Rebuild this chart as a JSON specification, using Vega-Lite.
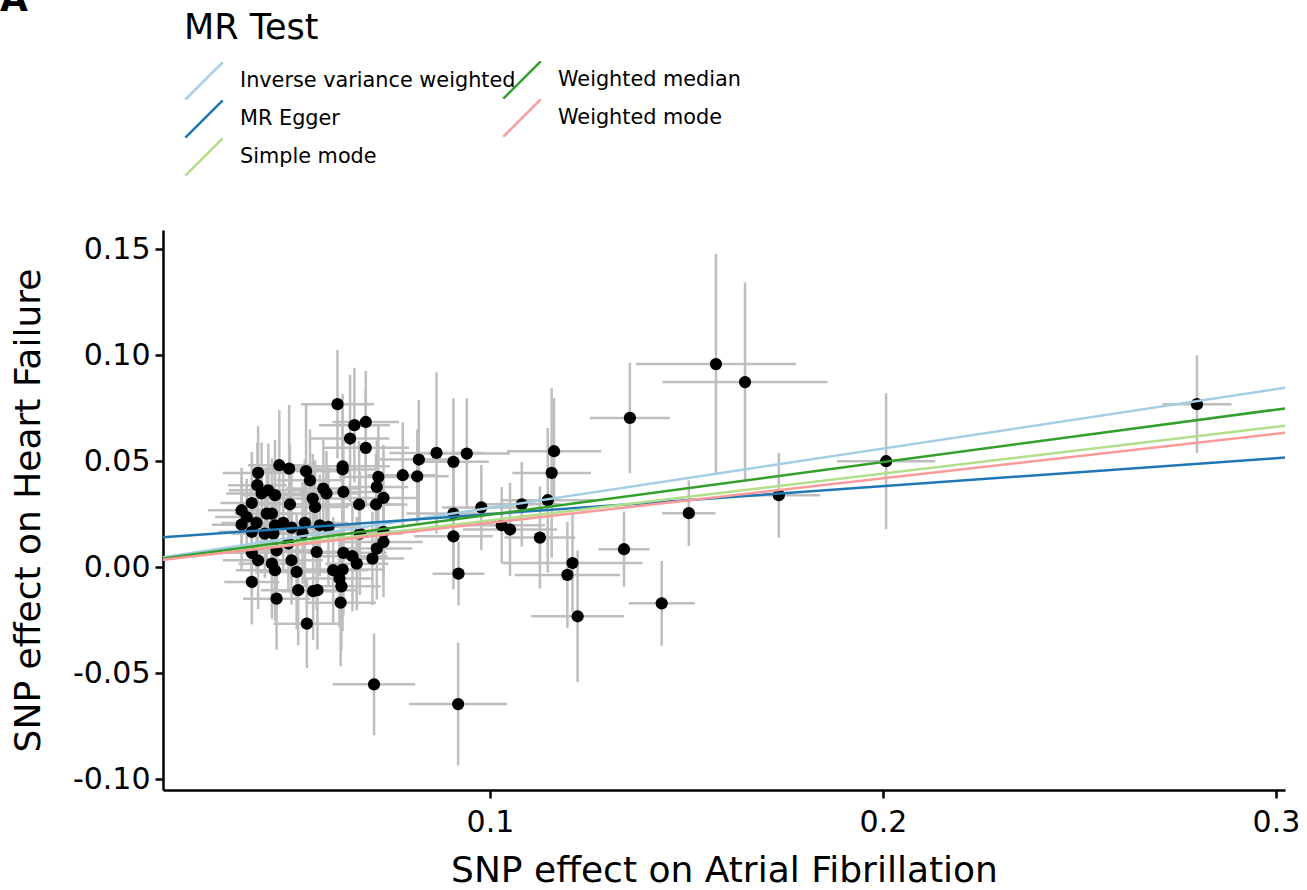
{
  "$schema": "https://vega.github.io/schema/vega-lite/v6.json",
  "autosize": {"type": "none"},
  "padding": {"left": 163, "top": 230, "right": 22, "bottom": 100},
  "width": 1122,
  "height": 560,
  "background": "white",
  "title": {
    "text": "A",
    "orient": "bottom",
    "anchor": "start",
    "frame": "group",
    "font": "DejaVu Sans",
    "fontSize": 36,
    "fontWeight": "bold",
    "color": "black",
    "baseline": "alphabetic",
    "offset": -877,
    "dx": -163
  },
  "datasets": {
    "snps": [
      {"bx": 0.2799, "by": 0.0769, "sx": 0.0088, "sy": 0.0230},
      {"bx": 0.2008, "by": 0.0500, "sx": 0.0125, "sy": 0.0320},
      {"bx": 0.1735, "by": 0.0340, "sx": 0.0105, "sy": 0.0200},
      {"bx": 0.1575, "by": 0.0958, "sx": 0.0204, "sy": 0.0520},
      {"bx": 0.1649, "by": 0.0873, "sx": 0.0210, "sy": 0.0470},
      {"bx": 0.1506, "by": 0.0255, "sx": 0.0068, "sy": 0.0155},
      {"bx": 0.1356, "by": 0.0704, "sx": 0.0102, "sy": 0.0260},
      {"bx": 0.1341, "by": 0.0085, "sx": 0.0065, "sy": 0.0177},
      {"bx": 0.1437, "by": -0.0170, "sx": 0.0084, "sy": 0.0200},
      {"bx": 0.1210, "by": 0.0020, "sx": 0.0178, "sy": 0.0230},
      {"bx": 0.1197, "by": -0.0036, "sx": 0.0134, "sy": 0.0250},
      {"bx": 0.1223, "by": -0.0231, "sx": 0.0118, "sy": 0.0310},
      {"bx": 0.0920, "by": -0.0030, "sx": 0.0066, "sy": 0.0150},
      {"bx": 0.0919, "by": -0.0645, "sx": 0.0125, "sy": 0.0290},
      {"bx": 0.0705, "by": -0.0552, "sx": 0.0105, "sy": 0.0240},
      {"bx": 0.0778, "by": 0.0434, "sx": 0.0090, "sy": 0.0250},
      {"bx": 0.0815, "by": 0.0429, "sx": 0.0080, "sy": 0.0220},
      {"bx": 0.0819, "by": 0.0508, "sx": 0.0100, "sy": 0.0280},
      {"bx": 0.0864, "by": 0.0539, "sx": 0.0120, "sy": 0.0380},
      {"bx": 0.0907, "by": 0.0497, "sx": 0.0090, "sy": 0.0300},
      {"bx": 0.0941, "by": 0.0536, "sx": 0.0110, "sy": 0.0260},
      {"bx": 0.0907, "by": 0.0253, "sx": 0.0120, "sy": 0.0300},
      {"bx": 0.0907, "by": 0.0146, "sx": 0.0100, "sy": 0.0250},
      {"bx": 0.0978, "by": 0.0282, "sx": 0.0100, "sy": 0.0200},
      {"bx": 0.1030, "by": 0.0198, "sx": 0.0110, "sy": 0.0180},
      {"bx": 0.1051, "by": 0.0178, "sx": 0.0120, "sy": 0.0220},
      {"bx": 0.1081, "by": 0.0297, "sx": 0.0100, "sy": 0.0200},
      {"bx": 0.1127, "by": 0.0140, "sx": 0.0090, "sy": 0.0240},
      {"bx": 0.1147, "by": 0.0316, "sx": 0.0120, "sy": 0.0340},
      {"bx": 0.1157, "by": 0.0445, "sx": 0.0100, "sy": 0.0400},
      {"bx": 0.1163, "by": 0.0547, "sx": 0.0120, "sy": 0.0250},
      {"bx": 0.0612, "by": 0.0769, "sx": 0.0093, "sy": 0.0255},
      {"bx": 0.0655, "by": 0.0670, "sx": 0.0090, "sy": 0.0270},
      {"bx": 0.0684, "by": 0.0685, "sx": 0.0085, "sy": 0.0240},
      {"bx": 0.0644, "by": 0.0607, "sx": 0.0100, "sy": 0.0300},
      {"bx": 0.0684, "by": 0.0563, "sx": 0.0110, "sy": 0.0280},
      {"bx": 0.0464, "by": 0.0481, "sx": 0.0080, "sy": 0.0260},
      {"bx": 0.0489, "by": 0.0465, "sx": 0.0095, "sy": 0.0300},
      {"bx": 0.0410, "by": 0.0445, "sx": 0.0090, "sy": 0.0220},
      {"bx": 0.0532, "by": 0.0453, "sx": 0.0110, "sy": 0.0320},
      {"bx": 0.0542, "by": 0.0410, "sx": 0.0085, "sy": 0.0240},
      {"bx": 0.0625, "by": 0.0476, "sx": 0.0120, "sy": 0.0340},
      {"bx": 0.0625, "by": 0.0461, "sx": 0.0090, "sy": 0.0280},
      {"bx": 0.0716, "by": 0.0426, "sx": 0.0100, "sy": 0.0250},
      {"bx": 0.0712, "by": 0.0379, "sx": 0.0080, "sy": 0.0220},
      {"bx": 0.0408, "by": 0.0387, "sx": 0.0075, "sy": 0.0200},
      {"bx": 0.0419, "by": 0.0348, "sx": 0.0090, "sy": 0.0240},
      {"bx": 0.0436, "by": 0.0363, "sx": 0.0100, "sy": 0.0220},
      {"bx": 0.0453, "by": 0.0340, "sx": 0.0085, "sy": 0.0260},
      {"bx": 0.0576, "by": 0.0371, "sx": 0.0095, "sy": 0.0230},
      {"bx": 0.0584, "by": 0.0348, "sx": 0.0080, "sy": 0.0200},
      {"bx": 0.0627, "by": 0.0355, "sx": 0.0110, "sy": 0.0270},
      {"bx": 0.0729, "by": 0.0327, "sx": 0.0090, "sy": 0.0250},
      {"bx": 0.0549, "by": 0.0324, "sx": 0.0100, "sy": 0.0210},
      {"bx": 0.0394, "by": 0.0303, "sx": 0.0080, "sy": 0.0240},
      {"bx": 0.0491, "by": 0.0297, "sx": 0.0090, "sy": 0.0280},
      {"bx": 0.0555, "by": 0.0284, "sx": 0.0085, "sy": 0.0220},
      {"bx": 0.0667, "by": 0.0296, "sx": 0.0095, "sy": 0.0300},
      {"bx": 0.0710, "by": 0.0296, "sx": 0.0080, "sy": 0.0240},
      {"bx": 0.0368, "by": 0.0269, "sx": 0.0085, "sy": 0.0200},
      {"bx": 0.0432, "by": 0.0253, "sx": 0.0070, "sy": 0.0220},
      {"bx": 0.0445, "by": 0.0253, "sx": 0.0095, "sy": 0.0260},
      {"bx": 0.0381, "by": 0.0237, "sx": 0.0080, "sy": 0.0180},
      {"bx": 0.0368, "by": 0.0201, "sx": 0.0075, "sy": 0.0210},
      {"bx": 0.0406, "by": 0.0209, "sx": 0.0090, "sy": 0.0240},
      {"bx": 0.0394, "by": 0.0167, "sx": 0.0085, "sy": 0.0220},
      {"bx": 0.0453, "by": 0.0198, "sx": 0.0100, "sy": 0.0270},
      {"bx": 0.0474, "by": 0.0209, "sx": 0.0080, "sy": 0.0230},
      {"bx": 0.0495, "by": 0.0187, "sx": 0.0095, "sy": 0.0250},
      {"bx": 0.0529, "by": 0.0209, "sx": 0.0110, "sy": 0.0300},
      {"bx": 0.0567, "by": 0.0198, "sx": 0.0090, "sy": 0.0240},
      {"bx": 0.0589, "by": 0.0190, "sx": 0.0100, "sy": 0.0280},
      {"bx": 0.0427, "by": 0.0159, "sx": 0.0085, "sy": 0.0210},
      {"bx": 0.0449, "by": 0.0159, "sx": 0.0075, "sy": 0.0190},
      {"bx": 0.0523, "by": 0.0162, "sx": 0.0090, "sy": 0.0240},
      {"bx": 0.0669, "by": 0.0159, "sx": 0.0110, "sy": 0.0290},
      {"bx": 0.0729, "by": 0.0167, "sx": 0.0085, "sy": 0.0220},
      {"bx": 0.0729, "by": 0.0119, "sx": 0.0100, "sy": 0.0260},
      {"bx": 0.0487, "by": 0.0112, "sx": 0.0080, "sy": 0.0230},
      {"bx": 0.0457, "by": 0.0080, "sx": 0.0095, "sy": 0.0250},
      {"bx": 0.0559, "by": 0.0072, "sx": 0.0085, "sy": 0.0270},
      {"bx": 0.0627, "by": 0.0068, "sx": 0.0110, "sy": 0.0300},
      {"bx": 0.0712, "by": 0.0088, "sx": 0.0090, "sy": 0.0240},
      {"bx": 0.0701, "by": 0.0041, "sx": 0.0080, "sy": 0.0220},
      {"bx": 0.0394, "by": 0.0068, "sx": 0.0075, "sy": 0.0200},
      {"bx": 0.0410, "by": 0.0033, "sx": 0.0090, "sy": 0.0230},
      {"bx": 0.0445, "by": 0.0017, "sx": 0.0085, "sy": 0.0260},
      {"bx": 0.0453, "by": -0.0014, "sx": 0.0100, "sy": 0.0240},
      {"bx": 0.0495, "by": 0.0033, "sx": 0.0080, "sy": 0.0210},
      {"bx": 0.0508, "by": -0.0022, "sx": 0.0095, "sy": 0.0270},
      {"bx": 0.0601, "by": -0.0014, "sx": 0.0090, "sy": 0.0250},
      {"bx": 0.0625, "by": -0.0011, "sx": 0.0105, "sy": 0.0290},
      {"bx": 0.0617, "by": -0.0053, "sx": 0.0085, "sy": 0.0230},
      {"bx": 0.0622, "by": -0.0090, "sx": 0.0100, "sy": 0.0300},
      {"bx": 0.0650, "by": 0.0052, "sx": 0.0090, "sy": 0.0260},
      {"bx": 0.0661, "by": 0.0017, "sx": 0.0080, "sy": 0.0220},
      {"bx": 0.0394, "by": -0.0069, "sx": 0.0070, "sy": 0.0200},
      {"bx": 0.0457, "by": -0.0148, "sx": 0.0085, "sy": 0.0240},
      {"bx": 0.0512, "by": -0.0108, "sx": 0.0095, "sy": 0.0260},
      {"bx": 0.0550, "by": -0.0113, "sx": 0.0080, "sy": 0.0230},
      {"bx": 0.0561, "by": -0.0108, "sx": 0.0100, "sy": 0.0280},
      {"bx": 0.0620, "by": -0.0167, "sx": 0.0090, "sy": 0.0300},
      {"bx": 0.0534, "by": -0.0266, "sx": 0.0085, "sy": 0.0210}
    ],
    "fitsLeft": [
      {"method": "Inverse variance weighted", "x": 0.0168, "y": 0.0047},
      {"method": "Inverse variance weighted", "x": 0.3023, "y": 0.0846},
      {"method": "MR Egger", "x": 0.0168, "y": 0.0141},
      {"method": "MR Egger", "x": 0.3023, "y": 0.0517},
      {"method": "Simple mode", "x": 0.0168, "y": 0.0037},
      {"method": "Simple mode", "x": 0.3023, "y": 0.0667}
    ],
    "fitsRight": [
      {"method": "Weighted median", "x": 0.0168, "y": 0.0042},
      {"method": "Weighted median", "x": 0.3023, "y": 0.0749},
      {"method": "Weighted mode", "x": 0.0168, "y": 0.0035},
      {"method": "Weighted mode", "x": 0.3023, "y": 0.0634}
    ]
  },
  "layer": [
    {
      "data": {"name": "snps"},
      "mark": {"type": "errorbar", "color": "#bebebe", "rule": {"strokeWidth": 2.5}},
      "encoding": {
        "x": {
          "field": "bx",
          "type": "quantitative",
          "title": "SNP effect on Atrial Fibrillation",
          "scale": {"domain": [0.0168, 0.3023], "nice": false, "zero": false},
          "axis": {
            "values": [0.1, 0.2, 0.3],
            "format": ".1f",
            "labelPadding": 9,
            "titlePadding": 16
          }
        },
        "xError": {"field": "sx"},
        "y": {
          "field": "by",
          "type": "quantitative",
          "title": "SNP effect on Heart Failure",
          "scale": {"domain": [-0.105, 0.159], "nice": false, "zero": false},
          "axis": {
            "values": [-0.1, -0.05, 0, 0.05, 0.1, 0.15],
            "labelExpr": "replace(format(datum.value, '.2f'), '\u2212', '-')",
            "labelPadding": 5,
            "titlePadding": 25
          }
        }
      }
    },
    {
      "data": {"name": "snps"},
      "mark": {"type": "errorbar", "color": "#bebebe", "rule": {"strokeWidth": 2.5}},
      "encoding": {
        "x": {"field": "bx", "type": "quantitative", "title": "SNP effect on Atrial Fibrillation"},
        "y": {"field": "by", "type": "quantitative", "title": "SNP effect on Heart Failure"},
        "yError": {"field": "sy"}
      }
    },
    {
      "data": {"name": "snps"},
      "mark": {"type": "circle", "color": "black", "opacity": 1, "size": 150},
      "encoding": {
        "x": {"field": "bx", "type": "quantitative", "title": "SNP effect on Atrial Fibrillation"},
        "y": {"field": "by", "type": "quantitative", "title": "SNP effect on Heart Failure"}
      }
    },
    {
      "data": {"name": "fitsLeft"},
      "mark": {"type": "line", "strokeWidth": 2.5},
      "encoding": {
        "x": {"field": "x", "type": "quantitative", "title": "SNP effect on Atrial Fibrillation"},
        "y": {"field": "y", "type": "quantitative", "title": "SNP effect on Heart Failure"},
        "color": {
          "field": "method",
          "type": "nominal",
          "scale": {
            "domain": ["Inverse variance weighted", "MR Egger", "Simple mode"],
            "range": ["#a6cee3", "#1f78b4", "#b2df8a"]
          },
          "legend": {
            "title": "MR Test",
            "orient": "none",
            "legendX": 21,
            "legendY": -219,
            "rowPadding": 0,
            "clipHeight": 38,
            "titleFont": "DejaVu Sans",
            "titleFontSize": 35,
            "titleFontWeight": "normal",
            "titleColor": "black",
            "titlePadding": 16,
            "labelFont": "DejaVu Sans",
            "labelFontSize": 20.8,
            "labelColor": "black",
            "labelOffset": 16,
            "labelLimit": 400,
            "symbolType": "M-1,1L1,-1",
            "symbolSize": 1400,
            "symbolStrokeWidth": 2.5
          }
        }
      }
    },
    {
      "data": {"name": "fitsRight"},
      "mark": {"type": "line", "strokeWidth": 2.5},
      "encoding": {
        "x": {"field": "x", "type": "quantitative", "title": "SNP effect on Atrial Fibrillation"},
        "y": {"field": "y", "type": "quantitative", "title": "SNP effect on Heart Failure"},
        "color": {
          "field": "method",
          "type": "nominal",
          "scale": {
            "domain": ["Weighted median", "Weighted mode"],
            "range": ["#33a02c", "#fb9a99"]
          },
          "legend": {
            "title": null,
            "orient": "none",
            "legendX": 339,
            "legendY": -169,
            "rowPadding": 0,
            "clipHeight": 38,
            "labelFont": "DejaVu Sans",
            "labelFontSize": 20.8,
            "labelColor": "black",
            "labelOffset": 16,
            "labelLimit": 400,
            "symbolType": "M-1,1L1,-1",
            "symbolSize": 1400,
            "symbolStrokeWidth": 2.5
          }
        }
      }
    }
  ],
  "resolve": {"scale": {"color": "independent"}, "legend": {"color": "independent"}},
  "config": {
    "view": {"stroke": null},
    "axis": {
      "grid": false,
      "domainColor": "black",
      "domainWidth": 2.5,
      "tickColor": "black",
      "tickWidth": 2.5,
      "tickSize": 8,
      "labelFont": "DejaVu Sans",
      "labelFontSize": 30,
      "labelColor": "black",
      "titleFont": "DejaVu Sans",
      "titleFontSize": 36,
      "titleFontWeight": "normal",
      "titleColor": "black"
    }
  }
}
